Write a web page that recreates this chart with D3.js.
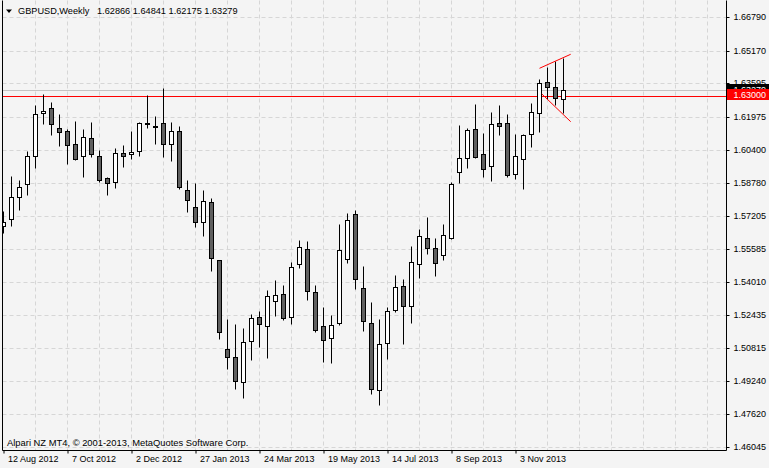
<!DOCTYPE html>
<html>
<head>
<meta charset="utf-8">
<script src="https://cdn.jsdelivr.net/npm/d3@7"></script>
<style>
  body { margin: 0; background: #f4f4f4; }
  svg { display: block; font-family: "Liberation Sans", Arial, sans-serif; }
</style>
</head>
<body>
<div id="chart"></div>
<script>
// 1: DATA (weekly GBPUSD candles, first bar = 12 Aug 2012)
const startDate = new Date(2012, 7, 12);

const opens = [
  1.56715, 1.57038, 1.58129, 1.58728, 1.60109, 1.62156, 1.62397, 1.61431, 1.61287, 1.60659,
  1.60080, 1.60949, 1.60080, 1.59017, 1.58824, 1.60225, 1.60191, 1.60321, 1.61687, 1.61528,
  1.61673, 1.60659, 1.61287, 1.58438, 1.57617, 1.56893, 1.57859, 1.55059, 1.50762, 1.50376,
  1.49169, 1.51148, 1.52307, 1.51872, 1.53079, 1.53417, 1.52307, 1.54866, 1.55590, 1.53514,
  1.51872, 1.51293, 1.52017, 1.55107, 1.57280, 1.53707, 1.52017, 1.48782, 1.51051, 1.52645,
  1.53803, 1.52838, 1.54866, 1.56121, 1.55638, 1.55300, 1.56121, 1.59307, 1.59983, 1.61383,
  1.60176, 1.59626, 1.61673, 1.61673, 1.59211, 1.59935, 1.61142, 1.62156, 1.63652, 1.63411,
  1.62866
];
const highs = [
  1.57439, 1.59129, 1.58935, 1.60336, 1.62556, 1.63073, 1.62687, 1.62122, 1.61383, 1.61784,
  1.61383, 1.61721, 1.60369, 1.59095, 1.60466, 1.60611, 1.61301, 1.61736, 1.63054, 1.62025,
  1.63377, 1.61721, 1.61543, 1.58935, 1.58791, 1.58453, 1.58052, 1.55080, 1.52225, 1.51969,
  1.51776, 1.52452, 1.52596, 1.53610, 1.54093, 1.53852, 1.54962, 1.56024, 1.55976, 1.53852,
  1.52790, 1.52403, 1.56797, 1.57328, 1.57473, 1.54769, 1.53031, 1.52210, 1.52790, 1.54334,
  1.54141, 1.55735, 1.56555, 1.57135, 1.56121, 1.56797, 1.58824, 1.61591, 1.61446, 1.62605,
  1.61205, 1.62218, 1.62542, 1.62122, 1.61142, 1.61142, 1.62638, 1.63812, 1.64377, 1.64666,
  1.64841
];
const lows = [
  1.56362, 1.56729, 1.57487, 1.58226, 1.59529, 1.61625, 1.61108, 1.60592, 1.59722, 1.59901,
  1.59095, 1.60031, 1.58839, 1.58226, 1.58564, 1.59578, 1.59964, 1.60109, 1.61460, 1.60659,
  1.60060, 1.59867, 1.58501, 1.57405, 1.56681, 1.56246, 1.54557, 1.51274, 1.49825, 1.48860,
  1.48411, 1.50260, 1.50887, 1.50327, 1.52355, 1.52162, 1.51969, 1.54672, 1.53128, 1.51583,
  1.50134, 1.50086, 1.51921, 1.54914, 1.53659, 1.51631, 1.48589, 1.48087, 1.50279, 1.52548,
  1.51003, 1.52017, 1.54190, 1.55348, 1.54286, 1.55059, 1.56100, 1.58805, 1.59529, 1.59998,
  1.59095, 1.58902, 1.61123, 1.59066, 1.58998, 1.58516, 1.60543, 1.61267, 1.62832, 1.62542,
  1.62175
];
const closes = [
  1.56922, 1.58100, 1.58583, 1.60080, 1.62107, 1.62252, 1.61625, 1.61267, 1.60611, 1.59964,
  1.60997, 1.60176, 1.58921, 1.58776, 1.60225, 1.60080, 1.60287, 1.61673, 1.61625, 1.61480,
  1.60659, 1.61287, 1.58612, 1.57955, 1.56893, 1.57907, 1.55155, 1.51583, 1.50376, 1.49217,
  1.51100, 1.52258, 1.51969, 1.53321, 1.53369, 1.52258, 1.54721, 1.55686, 1.53562, 1.51679,
  1.51196, 1.51921, 1.55541, 1.56990, 1.54141, 1.52114, 1.48831, 1.51003, 1.52596, 1.53755,
  1.52838, 1.54962, 1.56217, 1.55638, 1.54914, 1.56266, 1.58728, 1.59983, 1.61349, 1.60031,
  1.59452, 1.61625, 1.61557, 1.59191, 1.60080, 1.61094, 1.62204, 1.63604, 1.63411, 1.62880,
  1.63279
];

const priceTicks = [1.66790, 1.65170, 1.63595, 1.61975, 1.60400, 1.58780, 1.57205,
  1.55585, 1.54010, 1.52435, 1.50815, 1.49240, 1.47620, 1.46045];
const dateTickIdx = [0, 8, 16, 24, 32, 40, 48, 56, 64];
const dateTickLabels = ["12 Aug 2012", "7 Oct 2012", "2 Dec 2012", "27 Jan 2013",
  "24 Mar 2013", "19 May 2013", "14 Jul 2013", "8 Sep 2013", "3 Nov 2013"];

const levelPrice = 1.63000;
// trend lines drawn on the chart: [bar index, price]
const trendUpper = [[67.0, 1.64328], [70.9, 1.65004]];
const trendLower = [[67.3, 1.63087], [70.9, 1.61750]];

const bars = opens.map((o, i) => ({
  date: d3.timeWeek.offset(startDate, i),
  i, o, h: highs[i], l: lows[i], c: closes[i]
}));
const last = bars[bars.length - 1];

// 2: LAYOUT
const W = 769, H = 468;
const plotLeft = 2.5, plotRight = 726.5, plotTop = 0.5, plotBottom = 450.5;

const svg = d3.select("#chart").append("svg")
  .attr("width", W).attr("height", H);

svg.append("rect").attr("width", W).attr("height", H).attr("fill", "#f4f4f4");

// 3: SCALES
const x = d3.scaleLinear().domain([0, 90]).range([3.5, 723.5]);
const y = d3.scaleLinear().domain([1.46045, 1.66790]).range([447, 17.3]);
const py = v => Math.round(y(v)) + 0.5;

svg.append("clipPath").attr("id", "plot")
  .append("rect").attr("x", 3).attr("y", 0).attr("width", 723).attr("height", 450);

const plot = svg.append("g").attr("clip-path", "url(#plot)");

// 4: GRID
plot.selectAll(".hgrid").data(priceTicks).join("line")
  .attr("x1", plotLeft).attr("x2", plotRight)
  .attr("y1", d => py(d)).attr("y2", d => py(d))
  .attr("stroke", "#d6d6d6").attr("stroke-dasharray", "4,3");

plot.selectAll(".vgrid").data(d3.range(4, 90, 4)).join("line")
  .attr("x1", d => x(d)).attr("x2", d => x(d))
  .attr("y1", plotTop).attr("y2", plotBottom)
  .attr("stroke", "#d6d6d6").attr("stroke-dasharray", "4,3");

// bid line and level line
plot.append("line")
  .attr("x1", plotLeft).attr("x2", plotRight)
  .attr("y1", py(last.c)).attr("y2", py(last.c))
  .attr("stroke", "#c4c4c4");

plot.append("line")
  .attr("x1", plotLeft).attr("x2", plotRight)
  .attr("y1", py(levelPrice)).attr("y2", py(levelPrice))
  .attr("stroke", "#ff0000");

// 5: CANDLES
const candle = plot.selectAll(".candle").data(bars).join("g").attr("class", "candle");

candle.append("line")
  .attr("x1", d => x(d.i)).attr("x2", d => x(d.i))
  .attr("y1", d => py(d.h)).attr("y2", d => py(d.l))
  .attr("stroke", "#000");

candle.append("rect")
  .attr("x", d => x(d.i) - 2)
  .attr("width", 4)
  .attr("y", d => py(Math.max(d.o, d.c)))
  .attr("height", d => Math.max(py(Math.min(d.o, d.c)) - py(Math.max(d.o, d.c)), 1))
  .attr("fill", d => d.c >= d.o ? "#ffffff" : "#5f5f5f")
  .attr("stroke", "#000");

// trend lines
const tline = d3.line().x(d => x(d[0])).y(d => y(d[1]));
[trendUpper, trendLower].forEach(t => {
  plot.append("path").attr("d", tline(t))
    .attr("fill", "none").attr("stroke", "#ff0000").attr("stroke-width", 1);
});

// 6: FRAME
svg.append("path")
  .attr("d", `M${plotLeft},${plotTop}V${plotBottom}H${plotRight}V${plotTop}`)
  .attr("fill", "none").attr("stroke", "#000");

// 7: AXES
const yAxis = svg.append("g")
  .attr("transform", `translate(${plotRight},0)`)
  .call(d3.axisRight(y).tickValues(priceTicks).tickSize(3).tickPadding(4)
    .tickFormat(d3.format(".5f")));
yAxis.select(".domain").remove();
yAxis.selectAll(".tick").attr("transform", d => `translate(0,${py(d)})`);
yAxis.selectAll("text").attr("font-size", 9).attr("fill", "#000")
  .attr("font-family", "Liberation Sans, Arial, sans-serif");

const xAxis = svg.append("g")
  .attr("transform", `translate(0,${plotBottom})`)
  .call(d3.axisBottom(x).tickValues(dateTickIdx).tickSize(3)
    .tickFormat((d, i) => dateTickLabels[i]));
xAxis.select(".domain").remove();
xAxis.selectAll("text")
  .attr("text-anchor", "start").attr("x", 4).attr("y", 5)
  .attr("font-size", 9).attr("fill", "#000")
  .attr("font-family", "Liberation Sans, Arial, sans-serif");

// price labels on the right scale
function priceBox(v, fill, dyOff) {
  const cy = py(v) + dyOff;
  const g = svg.append("g");
  g.append("rect").attr("x", plotRight + 0.5).attr("y", cy - 6)
    .attr("width", W - plotRight).attr("height", 11).attr("fill", fill);
  g.append("text").attr("x", plotRight + 7).attr("y", cy).attr("dy", "0.32em")
    .attr("font-size", 9).attr("fill", "#fff").text(d3.format(".5f")(v));
}
priceBox(last.c, "#000000", -0.5);
priceBox(levelPrice, "#ff0000", -1.5);

// 8: TITLE AND NOTE
svg.append("path").attr("d", "M6,9.5H12L9,13Z").attr("fill", "#000");
svg.append("text").attr("x", 18).attr("y", 14).attr("font-size", 9.2)
  .text("GBPUSD,Weekly");
svg.append("text").attr("x", 97).attr("y", 14).attr("font-size", 9.2)
  .text([last.o, last.h, last.l, last.c].map(d3.format(".5f")).join(" "));

svg.append("text").attr("x", 7).attr("y", 446).attr("font-size", 9.4)
  .text("Alpari NZ MT4, \u00a9 2001-2013, MetaQuotes Software Corp.");
</script>
</body>
</html>
